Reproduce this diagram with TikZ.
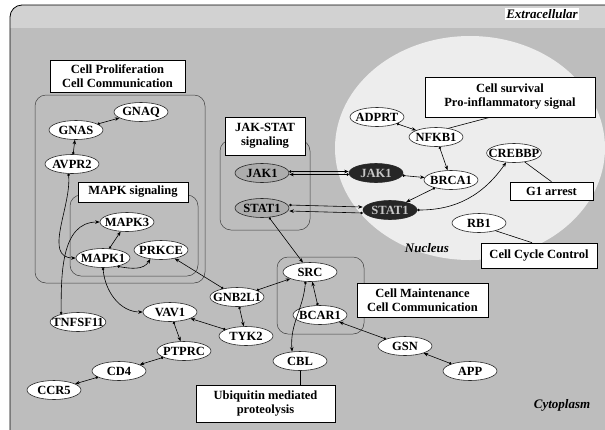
\documentclass[tikz,border=0pt]{standalone}
\usepackage{fontspec}
\setmainfont{Liberation Serif}
\usetikzlibrary{shapes.geometric,arrows.meta}

\tikzset{
  gene/.style={ellipse, draw=black!85, line width=0.6pt, fill=white, minimum width=54pt, minimum height=19pt, inner xsep=-6pt, inner ysep=-1pt},
  membrane/.style={gene, fill=gray!65},
  nucgene/.style={gene, fill=black!85, text=gray!45},
  note/.style={draw, line width=0.6pt, fill=white, align=center, inner sep=2pt},
  group/.style={draw=black!75, line width=0.5pt, rounded corners=11pt},
  link/.style={line width=0.6pt, {Circle[length=2.5pt]}-{Stealth[length=4.5pt,width=3.5pt]}},
  region/.style={font=\bfseries\itshape\fontsize{13}{15}\selectfont}
}

\begin{document}
\begin{tikzpicture}[x=1pt, y=-1pt, font=\bfseries\fontsize{12.5}{14}\selectfont]
\useasboundingbox (0,0) rectangle (605,429);

% cell, extracellular band and nucleus
\begin{scope}
  \clip (0,0) rectangle (605,429);
  \fill[gray!35, rounded corners=12pt] (10,5) rectangle (630,450);
  \fill[gray!52] (10.4,28) rectangle (630,450);
  \draw[line width=0.8pt, rounded corners=12pt] (10,5) rectangle (630,450);
  \fill[gray!14] (470,148) ellipse [x radius=135pt, y radius=112pt];
\end{scope}

% pathway groups
\draw[group] (35,95) rectangle (205,283);
\draw[group] (70,195) rectangle (198,276);
\draw[group] (220,140) rectangle (310,230);
\draw[group] (277,257) rectangle (364,334);

% genes
\node[gene] (gnaq) at (141,112) {GNAQ};
\node[gene] (gnas) at (76,130) {GNAS};
\node[gene] (avpr2) at (72,164) {AVPR2};
\node[gene] (mapk3) at (127,222) {MAPK3};
\node[gene] (mapk1) at (103,258) {MAPK1};
\node[gene] (prkce) at (161,250) {PRKCE};
\node[gene] (tnfsf11) at (78,322) {TNFSF11};
\node[gene] (vav1) at (170,312) {VAV1};
\node[gene] (gnb2l1) at (237,297) {GNB2L1};
\node[gene] (tyk2) at (246,336) {TYK2};
\node[gene] (ptprc) at (184,351) {PTPRC};
\node[gene] (cd4) at (119,371) {CD4};
\node[gene] (ccr5) at (54,390) {CCR5};
\node[gene] (src) at (310,272) {SRC};
\node[gene] (bcar1) at (320,315) {BCAR1};
\node[gene] (cbl) at (300,361) {CBL};
\node[gene] (gsn) at (405,346) {GSN};
\node[gene] (app) at (470,371) {APP};
\node[membrane] (jak1m) at (262,173) {JAK1};
\node[membrane] (stat1m) at (262,208) {STAT1};
\node[nucgene] (jak1n) at (376,173) {JAK1};
\node[nucgene] (stat1n) at (390,210) {STAT1};
\node[gene] (brca1) at (451,180) {BRCA1};
\node[gene] (nfkb1) at (436,137) {NFKB1};
\node[gene] (adprt) at (377,117) {ADPRT};
\node[gene] (crebbp) at (514,153) {CREBBP};
\node[gene] (rb1) at (479,223) {RB1};

% annotation boxes
\node[note, minimum width=135pt, minimum height=32pt] (prolif) at (117.5,76) {Cell Proliferation\\Cell Communication};
\node[note, minimum width=110pt, minimum height=20pt] (mapk) at (133,192) {MAPK signaling};
\node[note, minimum width=80pt, minimum height=38pt] (jakstat) at (265,136) {JAK-STAT\\signaling};
\node[note, minimum width=170pt, minimum height=40pt] (survival) at (510,97) {Cell survival\\Pro-inflammatory signal};
\node[note, minimum width=83pt, minimum height=18pt] (arrest) at (551.5,191) {G1 arrest};
\node[note, minimum width=116pt, minimum height=25pt] (cycle) at (539,255.5) {Cell Cycle Control};
\node[note, minimum width=131pt, minimum height=34pt] (maint) at (422.5,300) {Cell Maintenance\\Cell Communication};
\node[note, minimum width=139pt, minimum height=37pt] (ubiq) at (265.5,403.5) {Ubiquitin mediated\\proteolysis};

% compartments
\node[region, fill=white, inner sep=1pt] (extra) at (542,14) {Extracellular};
\node[region] (nucleus) at (427,248) {Nucleus};
\node[region] (cyto) at (562,405) {Cytoplasm};

% interactions
\draw[link] (gnas) -- (gnaq);
\draw[link] (avpr2) -- (gnas);
\draw[link] (avpr2.250) to[out=-85,in=180] (mapk1.west);
\draw[link] (mapk1) -- (mapk3);
\draw[link] (tnfsf11.155) to[out=90,in=180] (mapk3.west);
\draw[link] (mapk1.-30) to[out=-10,in=-120] (prkce.-140);
\draw[link] (mapk1.south) to[out=-85,in=180] (vav1.west);
\draw[link] (gnb2l1) -- (prkce);
\draw[link] (tyk2) -- (vav1);
\draw[link] (vav1) -- (ptprc);
\draw[link] (ptprc) -- (cd4);
\draw[link] (cd4) -- (ccr5);
\draw[link] (gnb2l1) -- (tyk2);
\draw[link] (gnb2l1) -- (src);
\draw[link] (stat1m) -- (src);
\draw[link] (bcar1) -- (src);
\draw[link] (src.-115) to[out=-95,in=95] (cbl.130);
\draw[link] (gsn) -- (bcar1);
\draw[link] (app) -- (gsn);
\draw[line width=0.6pt] (cbl.south) -- (cbl.south |- ubiq.north);
\draw[link] ([yshift=1.5pt]jak1m.east) -- ([yshift=1.5pt]jak1n.west);
\draw[link] ([yshift=-1.5pt]jak1n.west) -- ([yshift=-1.5pt]jak1m.east);
\draw[link] ([yshift=3pt]stat1m.east) -- ([yshift=3pt]stat1n.west);
\draw[link] ([yshift=-3pt]stat1n.west) -- ([yshift=-3pt]stat1m.east);
\draw[link] (jak1n) -- (brca1);
\draw[link] (brca1) -- (stat1n);
\draw[link] (nfkb1) -- (brca1);
\draw[link] (adprt) -- (nfkb1);
\draw[line width=0.6pt] (nfkb1.35) -- ([xshift=-20pt]survival.south);
\draw[link] (stat1n.east) to[out=0,in=-125] (crebbp.-130);
\draw[line width=0.6pt] (crebbp.-40) -- (arrest.north);
\draw[line width=0.6pt] (rb1.-25) -- ([xshift=-7pt]cycle.north);
\end{tikzpicture}
\end{document}
